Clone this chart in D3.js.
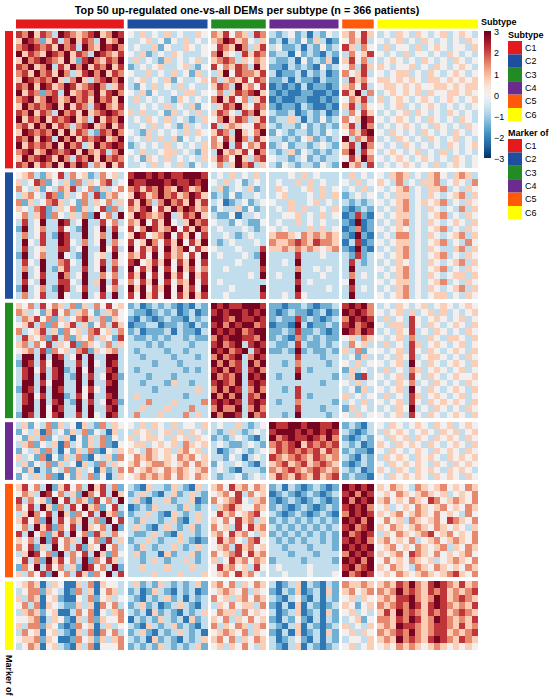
<!DOCTYPE html>
<html>
<head>
<meta charset="utf-8">
<script src="https://cdn.jsdelivr.net/npm/d3@7"></script>
<style>
  body { margin: 0; background: #fff; }
  svg { display: block; }
  text { font-family: "Liberation Sans", Arial, sans-serif; fill: #000; }
</style>
</head>
<body>
<div id="chart"></div>
<script>
const subtypes = ["C1", "C2", "C3", "C4", "C5", "C6"];
const patientsPerSubtype = [89, 66, 45, 57, 26, 83];   // n = 366
const markersPerSubtype = [50, 46, 42, 21, 34, 25];
const colorTicks = [3, 2, 1, 0, -1, -2, -3];

// z-scored expression in blocks of neighbouring rows/patients.
// code 0..8, 4 = 0; one string per row bin, patient groups C1..C6 separated by spaces
const rowsC1 = [
  "768576387656785687 4353435343354 657465376 32342313243 56475 3435435434534543",
  "587625736857638568 3345342435343 568756435 23132425312 46573 4345343543434354",
  "678767586738658786 3433524335434 476586357 34223132423 75364 3534435345434435",
  "857658768576387657 4352343543334 685437576 23314232132 36457 4343534434354343",
  "586787658527865768 3534325343453 567635465 32231423251 57463 3454343543435434",
  "768568375868576857 2343453345324 746576385 22132321423 46375 5434453435434543",
  "675867586357868576 4335343534253 358476657 31223132312 64573 4345534354345434",
  "587676853685367868 3453435243345 635657476 22313221322 37564 5545454355454545",
  "768587568756786357 3243534353433 576385647 12121312212 56473 4554545445545455",
  "857626738567685786 4352433435534 463576785 21211221121 75836 3454545354455454",
  "678568756867586758 3534343254343 685746357 12112211212 46573 5345434543454345",
  "586767858576378657 3343435343524 357685476 21221321121 57364 4345343454343434",
  "768576386758567876 5353342534353 576437685 32231232312 36475 3434535434354343",
  "857685767856385768 3435435343235 468576357 23353132423 64587 4345434354343543",
  "675868576367856857 3343534325343 735654476 32332423232 57386 3434543435434354",
  "587676858576327686 4325343435354 576385468 24323323243 46578 4354343543435434",
  "768587386857678568 3435353524343 647586375 33232452323 83657 3435434354345343",
  "857676858673586787 2343435343435 658374657 23423323432 57386 4343543434354345",
  "678568767858657368 4353345534325 385657486 32352432323 68375 3454345343534343",
  "586787586376858676 3425435343435 576485367 43323423233 47586 4345434543435434",
  "768576858687365857 3343534353243 463586735 32432332432 85637 3434543435345434"
];
const rowsC2 = [
  "456325473645236453 7887878778887 343534353 33343534333 35343 4356534356435653",
  "534762435263546734 8778887877878 435342343 34335353433 43534 5436343556345436",
  "643524365734625346 6757686587568 352343523 35433453534 34353 4345634355634354",
  "356437625346372564 5875686756875 232423343 34533343535 23434 3435534354345635",
  "625346753426354635 7586368675857 341234234 43353345343 32323 4345634545634354",
  "543672354625347263 6578475868756 243352423 34353533435 21232 3435634354343635",
  "463572643536284638 5876568357685 322413343 33445343534 12721 4345534345634354",
  "373483387348337463 6584758435867 433243224 34335343433 21812 3435634354345435",
  "283463374328348374 7468756847586 343334323 43433353534 12612 4345434345634354",
  "363473287338346383 5874568475847 334323433 56654656565 21821 3436634354345635",
  "384373387436348364 7458647584758 323433343 65567657665 13712 4345534345634364",
  "373453377348338473 8475748568475 433343337 55656565456 21821 3435634354335635",
  "283463384328345384 6574847564748 343334328 33337333433 32723 4345634345634354",
  "374383367438347364 7845758475847 333343338 33438333333 37323 3435434354345635",
  "363483257337348373 8475847485746 334333337 33336334343 38333 4345634345634354",
  "383473386348336463 7584748574857 333333438 34338333433 36343 3435634354345535",
  "374383377438358374 6475847465847 343333333 33337343333 48333 4345534345634354",
  "283463287347338463 8584758485748 333433338 33338333343 37343 3435634354345635",
  "363473384338347383 7485748475857 334333337 33437433333 38333 4345634345534354"
];
const rowsC3 = [
  "546374653625364745 2312323212132 878778887 22122321223 78786 3435434534543454",
  "653425746356423564 3221232312312 787887878 21232212312 87876 4345353453534345",
  "365746253467536254 2132123221323 887687787 23227232123 68787 3534374345434534",
  "457362645735246375 1223312232132 786878867 12218312232 78678 4355374354345435",
  "634573526453674536 2312223132213 878786788 22327223212 87687 3435473435434354",
  "375462736254635427 3223232332322 687887768 23216232322 45365 4345363354355435",
  "563647354726543635 3332323333233 786783787 32237322323 36453 3534375345434534",
  "456372645367254563 3233332332333 878678378 22328232232 53624 4345374354345435",
  "388383873483833883 3323333233323 686783687 33337333233 34253 3435473455434354",
  "287374883373843873 3333233323333 868673868 33236333323 43534 4345384354345435",
  "378473782384833783 3233333332323 786873786 33337323333 25343 3534365345434534",
  "378383783283734872 3332333233333 867683878 32338333332 35173 4345374354345445",
  "388374883383833783 3323332533233 787683787 33333333233 43534 3435463435434354",
  "287383873384743883 3333233333353 686873686 33237333333 34253 4345384354345435",
  "378473882374833783 3533333332333 868683768 33337323333 53434 3534375345434534",
  "378383783283734872 3336333533336 787873787 32336333332 34353 4345374354545435",
  "388384873383833783 3353335333633 686683686 33337333233 25343 3435483435434354",
  "287384783373843873 3633353336353 868873867 33238333323 43534 4345374354345435"
];
const rowsC4 = [
  "352436253415326354 4353543534435 343353234 87788788778 23213 4354345435453454",
  "243516342536243153 3545345353543 323532343 78887878787 32123 3545434543545345",
  "425362435142536243 5345543545354 232343213 86787787686 21232 4354535435454354",
  "356243516342536214 4553454536545 343223432 67678576767 32312 5435454354345435",
  "243526314253621435 5436545356453 312343234 57676767576 23221 4354345435454354",
  "534261425362143526 4656545465645 332431343 76567657656 32132 3545435454354545",
  "352436253415326354 5645665456465 243343213 56756756765 21232 4354545435435454",
  "425132436253415236 6456546565456 343213332 65676567656 32312 5435435454354543",
  "243536214253624135 4565656465465 323342343 57657657567 23221 4354545435454354"
];
const rowsC5 = [
  "574638257463857362 3215332532153 564756465 23132123212 87878 5465436545645465",
  "465387463528647385 2353213523532 456473645 12321232123 78687 4546545654534546",
  "736452847365274638 3521335233512 645674356 21232123212 86878 5645465476456546",
  "647385263748562473 1232533325323 356754465 23212321232 78786 4534546545645465",
  "358647385264738562 2335321532353 475645674 32123212321 68787 5456456546454364",
  "574628374658362847 3253323521353 546475635 23232323232 87868 4645365456476546",
  "463857264738546382 3532135323523 645374756 32323232323 78678 5465456546545435",
  "738462573846275364 3223532153323 564756435 23232323232 86787 3546545674564546",
  "546382746538462735 2335323353212 475643674 32323233232 78786 5645463456456546",
  "647253846372548463 3253233532353 456375645 33233323332 87878 4564546545635465",
  "358746283647385264 3523315233523 645674756 33323332333 68787 5456476546454564",
  "473628574638264753 3323532335323 534756465 23333233332 87868 4645465453456546",
  "264837463528746382 3353335333533 475645374 34333343333 78678 5465436546545465",
  "536472846375264837 3333533353335 456475643 33433343334 86787 4546545654567546"
];
const rowsC6 = [
  "456513541153615443 3523253232352 564635465 31235132132 65565 5657686578765756",
  "346625431263514653 2312532132312 456546354 21325123152 56456 6568676576756567",
  "536514521143624534 3213235231323 645356465 32134213132 45354 5657786568756765",
  "463615432253516463 2352312353213 354645536 21315132123 54245 6567687578765657",
  "356524511364614356 3231523213235 465536454 31235123152 45343 5758676576756765",
  "445613542153625446 1323253231523 546354645 21324213132 34524 6657687568765657",
  "536625421264513534 3215323523213 635465356 32135132123 53435 5658776567765756",
  "364514532153616463 2352132353231 456546354 21315123152 45354 6567686567756567",
  "455625411264525356 3231523213235 564635465 31234213132 34435 5658676578765765",
  "346514532153614446 2323253232352 453546435 32135132123 45345 4546565456545454"
];
const rowGroups = [rowsC1, rowsC2, rowsC3, rowsC4, rowsC5, rowsC6];

const level = c => (c - 4) * 0.72;

const W = 550, H = 698;
const hm = { left: 16, right: 478, top: 31, bottom: 650, gapX: 3.7, gapY: 4 };
const groupColors = ["#E41A1C", "#1F4E9E", "#228B22", "#6A2C8F", "#FF5A0A", "#FFFF00"];

const svg = d3.select("#chart").append("svg")
  .attr("width", W)
  .attr("height", H);

// layout scales: patients on x, marker genes on y, with a gap between groups
const nP = d3.sum(patientsPerSubtype);
const nM = d3.sum(markersPerSubtype);
const gx = hm.gapX * nP / (hm.right - hm.left - 5 * hm.gapX);
const gy = hm.gapY * nM / (hm.bottom - hm.top - 5 * hm.gapY);
const x = d3.scaleLinear().domain([0, nP + 5 * gx]).range([hm.left, hm.right]);
const y = d3.scaleLinear().domain([0, nM + 5 * gy]).range([hm.top, hm.bottom]);
const colStart = patientsPerSubtype.map((n, i) => d3.sum(patientsPerSubtype.slice(0, i)) + i * gx);
const rowStart = markersPerSubtype.map((n, i) => d3.sum(markersPerSubtype.slice(0, i)) + i * gy);

const color = d3.scaleSequential(t => d3.interpolateRdBu(1 - t)).domain([-3, 3]);

// cells
const cells = [];
rowGroups.forEach((rows, g) => {
  const rh = markersPerSubtype[g] / rows.length;
  rows.forEach((row, r) => {
    row.split(" ").forEach((seg, k) => {
      const cw = patientsPerSubtype[k] / seg.length;
      for (let j = 0; j < seg.length; j++) {
        cells.push({
          x0: colStart[k] + j * cw, x1: colStart[k] + (j + 1) * cw,
          y0: rowStart[g] + r * rh, y1: rowStart[g] + (r + 1) * rh,
          v: level(+seg[j])
        });
      }
    });
  });
});

svg.append("g")
  .attr("shape-rendering", "crispEdges")
  .selectAll("rect")
  .data(cells)
  .join("rect")
  .attr("x", d => x(d.x0))
  .attr("y", d => y(d.y0))
  .attr("width", d => x(d.x1) - x(d.x0))
  .attr("height", d => y(d.y1) - y(d.y0))
  .attr("fill", d => color(d.v));

// top annotation (subtype of patient)
svg.append("g")
  .selectAll("rect")
  .data(subtypes)
  .join("rect")
  .attr("x", (d, i) => x(colStart[i]))
  .attr("y", 19.5)
  .attr("width", (d, i) => x(colStart[i] + patientsPerSubtype[i]) - x(colStart[i]))
  .attr("height", 9)
  .attr("fill", (d, i) => groupColors[i]);

svg.append("text")
  .attr("x", 481).attr("y", 24.6)
  .attr("font-size", 9).attr("font-weight", "bold")
  .text("Subtype");

// left annotation (marker of)
svg.append("g")
  .selectAll("rect")
  .data(subtypes)
  .join("rect")
  .attr("x", 5)
  .attr("y", (d, i) => y(rowStart[i]))
  .attr("width", 8)
  .attr("height", (d, i) => y(rowStart[i] + markersPerSubtype[i]) - y(rowStart[i]))
  .attr("fill", (d, i) => groupColors[i]);

svg.append("text")
  .attr("transform", "translate(6,655) rotate(90)")
  .attr("font-size", 9).attr("font-weight", "bold")
  .text("Marker of");

// title
svg.append("text")
  .attr("x", (hm.left + hm.right) / 2).attr("y", 13.5)
  .attr("text-anchor", "middle")
  .attr("font-size", 10.8).attr("font-weight", "bold")
  .text("Top 50 up-regulated one-vs-all DEMs per subtype (n = 366 patients)");

// colour bar
const cb = { x: 484, y0: 31, y1: 158, w: 7 };
const grad = svg.append("defs").append("linearGradient")
  .attr("id", "cbar").attr("x1", 0).attr("y1", 0).attr("x2", 0).attr("y2", 1);
grad.selectAll("stop")
  .data(d3.range(0, 1.0001, 0.05))
  .join("stop")
  .attr("offset", d => d)
  .attr("stop-color", d => color(3 - 6 * d));
svg.append("rect")
  .attr("x", cb.x).attr("y", cb.y0)
  .attr("width", cb.w).attr("height", cb.y1 - cb.y0)
  .attr("fill", "url(#cbar)");
const cy = d3.scaleLinear().domain([3, -3]).range([cb.y0, cb.y1]);
svg.append("g")
  .selectAll("text")
  .data(colorTicks)
  .join("text")
  .attr("x", cb.x + cb.w + 3)
  .attr("y", d => cy(d) + 4.3)
  .attr("font-size", 9)
  .text(d => d < 0 ? "\u2212" + Math.abs(d) : d);

// discrete legends
function legend(title, top) {
  const g = svg.append("g");
  g.append("text")
    .attr("x", 508).attr("y", top)
    .attr("font-size", 9).attr("font-weight", "bold")
    .text(title);
  const bh = 13.4;
  g.selectAll("rect")
    .data(subtypes)
    .join("rect")
    .attr("x", 508)
    .attr("y", (d, i) => top + 3 + i * bh)
    .attr("width", 14)
    .attr("height", bh)
    .attr("fill", (d, i) => groupColors[i]);
  g.selectAll(".lab")
    .data(subtypes)
    .join("text")
    .attr("class", "lab")
    .attr("x", 525)
    .attr("y", (d, i) => top + 3 + i * bh + bh / 2 + 3)
    .attr("font-size", 9)
    .text(d => d);
}
legend("Subtype", 38);
legend("Marker of", 136);
</script>
</body>
</html>
